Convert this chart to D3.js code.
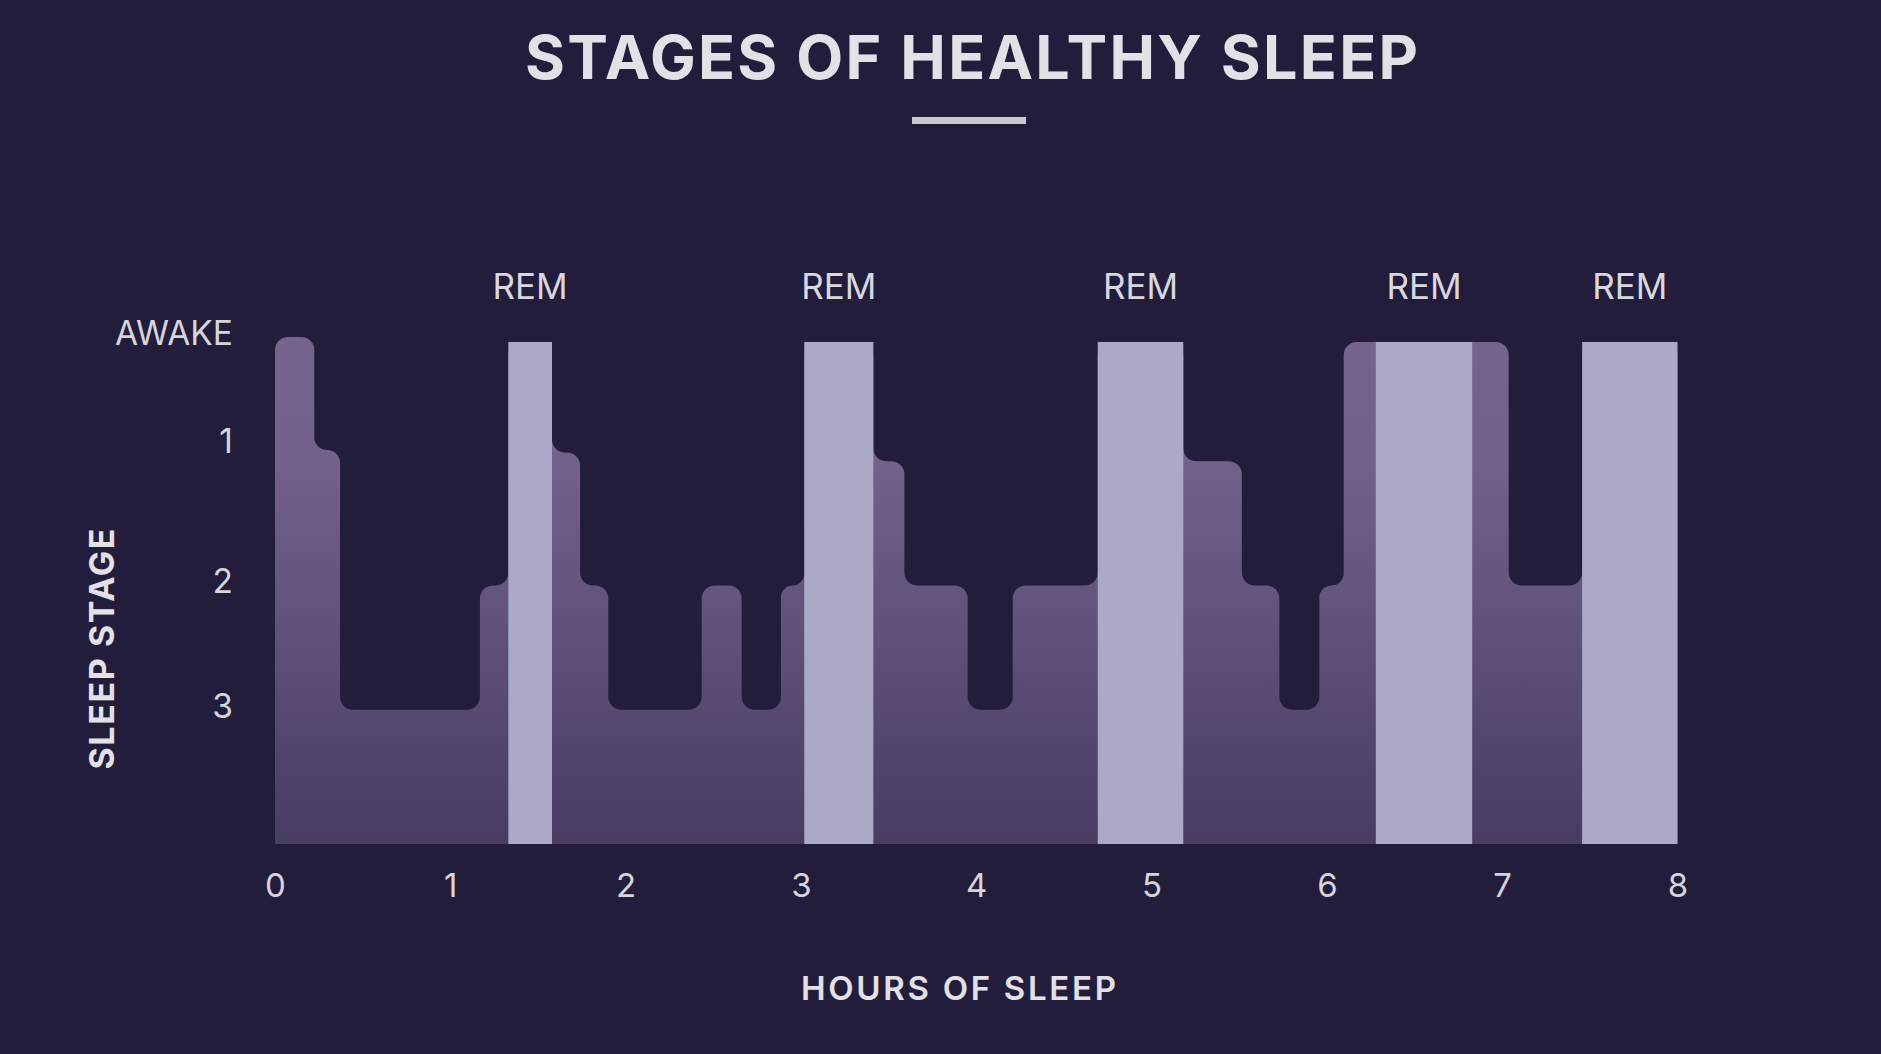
<!DOCTYPE html>
<html>
<head>
<meta charset="utf-8">
<script src="https://cdn.jsdelivr.net/npm/d3@7"></script>
<style>
  html, body { margin: 0; padding: 0; background: #221d3b; }
  svg { display: block; }
  text { font-family: Inter, "Noto Sans", sans-serif; }
</style>
</head>
<body>
<svg id="chart" width="1881" height="1054"></svg>
<script>
// ---------- data ----------
const segmentStartHours = [0, 0.224, 0.371, 1.169, 1.331, 1.580, 1.740, 1.901, 2.434, 2.662, 2.886, 3.019,
                           3.413, 3.590, 3.951, 4.208, 4.693, 5.181, 5.515, 5.729, 5.957, 6.096, 7.037, 7.456];
const segmentStages     = [0, 0.91, 3, 2, 0.04, 0.93, 2, 3, 2, 3, 2, 0.04,
                           1, 2, 3, 2, 0.04, 1, 2, 3, 2, 0.04, 2, 0.04];
const totalHours = 8;
const remStartHours = [1.331, 3.019, 4.693, 6.279, 7.456];
const remEndHours   = [1.580, 3.413, 5.181, 6.829, 8.0];
const remLabels     = ["REM", "REM", "REM", "REM", "REM"];
const remTopStage = 0.04;
const floorStage = 4.08;
const xTickValues = [0, 1, 2, 3, 4, 5, 6, 7, 8];
const yTickValues = [0, 0.87, 2, 3];
const yTickLabels = ["AWAKE", "1", "2", "3"];
const titleText = "STAGES OF HEALTHY SLEEP";
const xTitle = "HOURS OF SLEEP";
const yTitle = "SLEEP STAGE";

// ---------- layout ----------
const svg = d3.select("#chart");
const x = d3.scaleLinear().domain([0, totalHours]).range([275, 1677.5]);
const y = d3.scaleLinear().domain([0, floorStage]).range([337, 844]);

const defs = svg.append("defs");
const grad = defs.append("linearGradient")
  .attr("id", "areaGrad").attr("gradientUnits", "userSpaceOnUse")
  .attr("x1", 0).attr("x2", 0).attr("y1", y(0)).attr("y2", y(floorStage));
grad.append("stop").attr("offset", "0%").attr("stop-color", "#75648c");
grad.append("stop").attr("offset", "25%").attr("stop-color", "#72628a");
grad.append("stop").attr("offset", "100%").attr("stop-color", "#483c62");

// ---------- stepped area with rounded corners ----------
const pts = [[x(0), y(floorStage)]];
segmentStartHours.forEach((s, i) => {
  const e = i + 1 < segmentStartHours.length ? segmentStartHours[i + 1] : totalHours;
  pts.push([x(s), y(segmentStages[i])]);
  pts.push([x(e), y(segmentStages[i])]);
});
pts.push([x(totalHours), y(floorStage)]);

const R = 13;
const p = d3.path();
p.moveTo(pts[0][0], pts[0][1]);
for (let k = 1; k < pts.length - 1; k++) {
  const a = pts[k - 1], b = pts[k], c = pts[k + 1];
  const d1 = Math.hypot(b[0] - a[0], b[1] - a[1]);
  const d2 = Math.hypot(c[0] - b[0], c[1] - b[1]);
  const r = Math.min(R, d1 / 2, d2 / 2);
  if (r <= 0.01) { p.lineTo(b[0], b[1]); }
  else { p.arcTo(b[0], b[1], c[0], c[1], r); }
}
p.lineTo(pts[pts.length - 1][0], pts[pts.length - 1][1]);
p.closePath();

svg.append("path").attr("d", p.toString()).attr("fill", "url(#areaGrad)");

// ---------- REM bars ----------
svg.append("g").selectAll("rect").data(remStartHours).join("rect")
  .attr("x", (d) => x(d))
  .attr("width", (d, i) => x(remEndHours[i]) - x(d))
  .attr("y", y(remTopStage))
  .attr("height", y(floorStage) - y(remTopStage))
  .attr("fill", "#aba9c7");

svg.append("g").selectAll("text").data(remStartHours).join("text")
  .attr("x", (d, i) => (x(d) + x(remEndHours[i])) / 2)
  .attr("y", 299)
  .attr("text-anchor", "middle")
  .attr("font-size", 35)
  .attr("fill", "#d9d7e0")
  .text((d, i) => remLabels[i]);

// ---------- axes ----------
const xAxis = d3.axisBottom(x).tickValues(xTickValues).tickSize(0).tickPadding(30).tickFormat(d3.format("d"));
const gx = svg.append("g").attr("transform", `translate(0,${y(floorStage)})`).call(xAxis);
gx.select(".domain").remove();
gx.selectAll("text").attr("font-size", 33).attr("fill", "#d6d4dd")
  .attr("font-family", "Inter, 'Noto Sans', sans-serif");

const yAxis = d3.axisLeft(y).tickValues(yTickValues).tickSize(0).tickPadding(42)
  .tickFormat((d, i) => yTickLabels[i]);
const gy = svg.append("g").attr("transform", `translate(${x(0)},0)`).call(yAxis);
gy.select(".domain").remove();
gy.selectAll("text").attr("font-size", 33.5).attr("fill", "#d6d4dd").attr("dy", "0.22em")
  .attr("font-family", "Inter, 'Noto Sans', sans-serif");

// ---------- titles ----------
svg.append("text").attr("x", 971.5).attr("y", 78.5).attr("text-anchor", "middle")
  .attr("font-size", 61).attr("font-weight", 700).attr("fill", "#e3e1e8")
  .attr("textLength", 893).attr("lengthAdjust", "spacing")
  .text(titleText);

svg.append("rect").attr("x", 912).attr("y", 117).attr("width", 114).attr("height", 7)
  .attr("fill", "#c9c7cf");

svg.append("text").attr("x", 958.5).attr("y", 1000).attr("text-anchor", "middle")
  .attr("font-size", 33).attr("font-weight", 600).attr("fill", "#e3e1e8")
  .attr("textLength", 315).attr("lengthAdjust", "spacing")
  .text(xTitle);

svg.append("text").attr("transform", "translate(114,649) rotate(-90)").attr("text-anchor", "middle")
  .attr("font-size", 34).attr("font-weight", 700).attr("fill", "#e3e1e8")
  .attr("textLength", 241).attr("lengthAdjust", "spacing")
  .text(yTitle);
</script>
</body>
</html>
